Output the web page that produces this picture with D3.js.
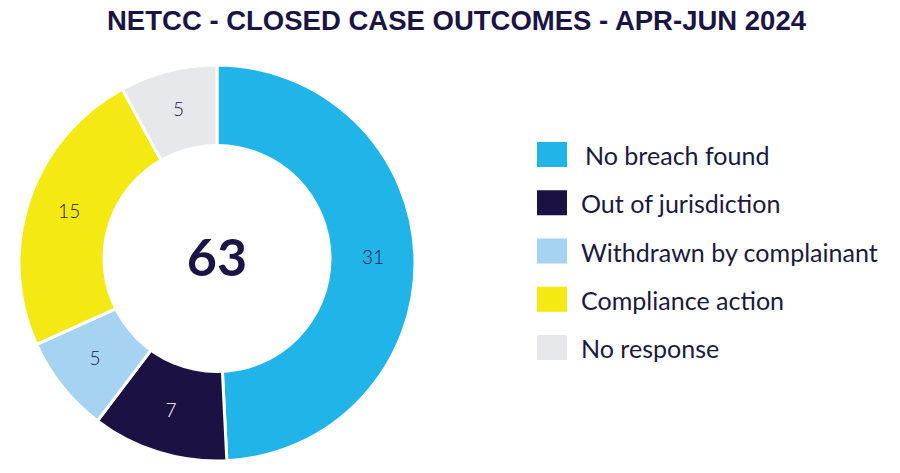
<!DOCTYPE html>
<html>
<head>
<meta charset="utf-8">
<script src="https://cdn.jsdelivr.net/npm/d3@7"></script>
<style>
  html, body { margin: 0; padding: 0; background: #ffffff; }
  svg { display: block; }
</style>
</head>
<body>
<svg id="chart" width="900" height="473"></svg>
<script>
const title = "NETCC - CLOSED CASE OUTCOMES - APR-JUN 2024";
const categories = ["No breach found", "Out of jurisdiction", "Withdrawn by complainant", "Compliance action", "No response"];
const values = [31, 7, 5, 15, 5];
const colors = ["#20b4e9", "#1b1143", "#a7d3f3", "#f5e914", "#e7e8ec"];
const labelColors = ["#1b1a3e", "#ffffff", "#1b1a3e", "#1b1a3e", "#1b1a3e"];
const totalLabel = String(d3.sum(values));

const svg = d3.select("#chart");
const navy = "#1b1545";
const sans = "Lato, 'Open Sans', sans-serif";

// Title
svg.append("text")
  .attr("x", 456.5).attr("y", 30)
  .attr("text-anchor", "middle")
  .attr("font-family", "'Liberation Sans', Arial, sans-serif")
  .attr("font-weight", "bold")
  .attr("font-size", 27)
  .attr("fill", navy)
  .attr("textLength", 699)
  .attr("lengthAdjust", "spacingAndGlyphs")
  .text(title);

// Donut
const cx = 217, cy = 263, rOuter = 198;
const holeCx = 217, holeCy = 258.5, holeR = 114.5;

const data = categories.map((c, i) => ({ name: c, value: values[i], color: colors[i], lc: labelColors[i] }));
const pie = d3.pie().value(d => d.value).sort(null);
const arcs = pie(data);
const arc = d3.arc().innerRadius(100).outerRadius(rOuter);
const labelArc = d3.arc().innerRadius(156).outerRadius(156);

const g = svg.append("g").attr("transform", `translate(${cx},${cy})`);
g.selectAll("path.slice")
  .data(arcs)
  .join("path")
  .attr("class", "slice")
  .attr("d", arc)
  .attr("fill", d => d.data.color)
  .attr("stroke", "#ffffff")
  .attr("stroke-width", 3)
  .attr("stroke-linejoin", "miter");

// centre hole
svg.append("circle")
  .attr("cx", holeCx).attr("cy", holeCy).attr("r", holeR)
  .attr("fill", "#ffffff");

// slice labels
const lg = svg.append("g").attr("transform", `translate(${cx},${(cy + holeCy) / 2})`);
lg.selectAll("text")
  .data(arcs)
  .join("text")
  .attr("transform", d => { const [x, y] = labelArc.centroid(d); return `translate(${x},${y})`; })
  .attr("text-anchor", "middle")
  .attr("dy", "0.36em")
  .attr("font-family", sans)
  .attr("font-weight", 300)
  .attr("font-size", 19)
  .attr("fill", d => d.data.lc)
  .text(d => d.data.value);

// total
svg.append("text")
  .attr("x", holeCx).attr("y", 276)
  .attr("text-anchor", "middle")
  .attr("font-family", sans)
  .attr("font-weight", "bold")
  .attr("font-size", 52)
  .attr("fill", navy)
  .text(totalLabel);

// Legend
const legend = svg.append("g");
const rowY = d3.scalePoint().domain(categories).range([142, 335]);
const rows = legend.selectAll("g.row")
  .data(data)
  .join("g")
  .attr("class", "row")
  .attr("transform", d => `translate(537,${rowY(d.name)})`);
rows.append("rect")
  .attr("width", 30).attr("height", 25)
  .attr("fill", d => d.color);
const texts = rows.append("text")
  .attr("x", (d, i) => i === 0 ? 48 : 44)
  .attr("y", 23)
  .attr("font-family", sans)
  .attr("font-size", 25)
  .attr("fill", "#1b1a3e")
  .text(d => d.name);

// fit legend font so the longest label spans its measured width
const longest = texts.filter(d => d.name === "Withdrawn by complainant").node();
const w = longest.getComputedTextLength();
const fs = 25 * 297 / w;
texts.attr("font-size", fs);
</script>
</body>
</html>
